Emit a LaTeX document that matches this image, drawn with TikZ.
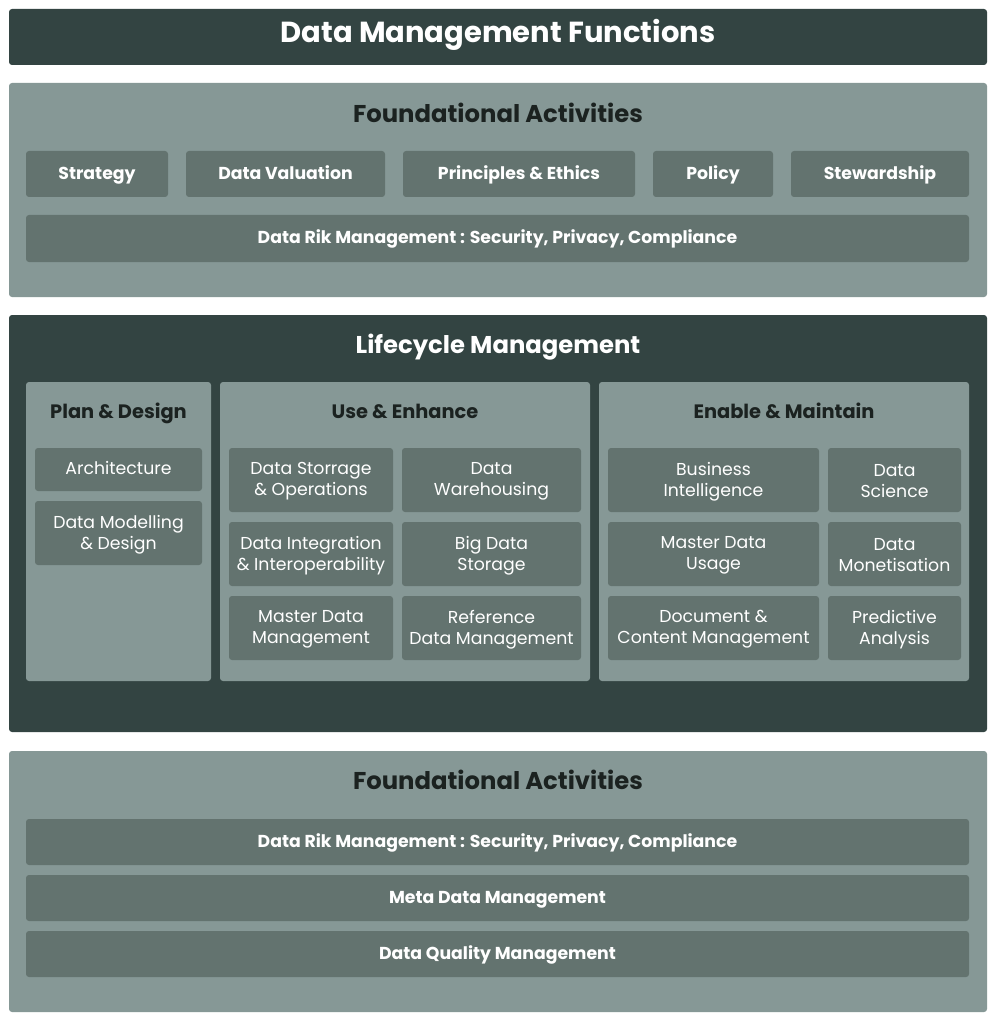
\documentclass[tikz,border=0pt]{standalone}
\usepackage{fontspec}
\setmainfont{Poppins}
\definecolor{dk}{HTML}{334442}
\definecolor{lt}{HTML}{869896}
\definecolor{bx}{HTML}{63736F}
\definecolor{tx}{HTML}{1B2220}
\tikzset{
 px/.style={x=1pt,y=-1pt},
 panel/.style={rounded corners=3pt},
 bbox/.style={fill=bx,rounded corners=3pt},
 one/.style={text height=1.2em,text depth=0.12em,inner sep=0pt},
 btxt/.style={one,text=white,font=\fontsize{17.3}{20}\selectfont\bfseries},
 rtxt/.style={text=white,font=\fontsize{17.3}{21}\selectfont,align=center,yshift=-1.5pt},
 ttl/.style={one,text=tx,font=\fontsize{24.3}{28}\selectfont\bfseries},
 sttl/.style={one,text=tx,font=\fontsize{19.4}{23}\selectfont\bfseries},
}
\begin{document}
\begin{tikzpicture}[px]
\useasboundingbox[fill=white] (0,0) rectangle (997,1024);
% title
\fill[panel,dk] (9,9) rectangle (987,65);
\node[one,text=white,font=\fontsize{29}{33}\selectfont\bfseries] (title) at (498,37) {Data Management Functions};
% panel 1
\fill[panel,lt] (9,83) rectangle (987,297);
\node[ttl] (fa1) at (498,117) {Foundational Activities};
\fill[bbox] (26,151) rectangle (168,197); \node[btxt] (s1) at (97,174) {Strategy};
\fill[bbox] (186,151) rectangle (385,197); \node[btxt] (s2) at (285.5,174) {Data Valuation};
\fill[bbox] (403,151) rectangle (635,197); \node[btxt] (s3) at (519,174) {Principles \& Ethics};
\fill[bbox] (653,151) rectangle (773,197); \node[btxt] (s4) at (713,174) {Policy};
\fill[bbox] (791,151) rectangle (969,197); \node[btxt] (s5) at (880,174) {Stewardship};
\fill[bbox] (26,215) rectangle (969,262); \node[btxt] (r1) at (497.5,238.5) {Data Rik Management : Security, Privacy, Compliance};
% panel 2
\fill[panel,dk] (9,315) rectangle (987,732);
\node[one,text=white,font=\fontsize{24.3}{28}\selectfont\bfseries] (lm) at (498,348) {Lifecycle Management};
\fill[panel,lt] (26,382) rectangle (211,681);
\fill[panel,lt] (220,382) rectangle (590,681);
\fill[panel,lt] (599,382) rectangle (969,681);
\node[sttl] (pd) at (118.5,413) {Plan \& Design};
\node[sttl] (ue) at (405,413) {Use \& Enhance};
\node[sttl] (em) at (784,413) {Enable \& Maintain};
\fill[bbox] (35,448) rectangle (202,491); \node[rtxt,one,yshift=1.5pt] (p1) at (118.5,469.5) {Architecture};
\fill[bbox] (35,501) rectangle (202,565); \node[rtxt] (p2) at (118.5,533) {Data Modelling\\\& Design};
\fill[bbox] (229,448) rectangle (393,512); \node[rtxt] (u1) at (311,480) {Data Storrage\\\& Operations};
\fill[bbox] (402,448) rectangle (581,512); \node[rtxt] (u2) at (491.5,480) {Data\\Warehousing};
\fill[bbox] (229,522) rectangle (393,586); \node[rtxt] (u3) at (311,554) {Data Integration\\\& Interoperability};
\fill[bbox] (402,522) rectangle (581,586); \node[rtxt] (u4) at (491.5,554) {Big Data\\Storage};
\fill[bbox] (229,596) rectangle (393,660); \node[rtxt] (u5) at (311,628) {Master Data\\Management};
\fill[bbox] (402,596) rectangle (581,660); \node[rtxt] (u6) at (491.5,628) {Reference\\Data Management};
\fill[bbox] (608,448) rectangle (819,512); \node[rtxt] (e1) at (713.5,480) {Business\\Intelligence};
\fill[bbox] (828,448) rectangle (961,512); \node[rtxt] (e2) at (894.5,480) {Data\\Science};
\fill[bbox] (608,522) rectangle (819,586); \node[rtxt] (e3) at (713.5,554) {Master Data\\Usage};
\fill[bbox] (828,522) rectangle (961,586); \node[rtxt] (e4) at (894.5,554) {Data\\Monetisation};
\fill[bbox] (608,596) rectangle (819,660); \node[rtxt] (e5) at (713.5,628) {Document \&\\Content Management};
\fill[bbox] (828,596) rectangle (961,660); \node[rtxt] (e6) at (894.5,628) {Predictive\\Analysis};
% panel 3
\fill[panel,lt] (9,751) rectangle (987,1012);
\node[ttl] (fa2) at (498,784) {Foundational Activities};
\fill[bbox] (26,819) rectangle (969,865); \node[btxt] (b1) at (497.5,842) {Data Rik Management : Security, Privacy, Compliance};
\fill[bbox] (26,875) rectangle (969,921); \node[btxt] (b2) at (497.5,898) {Meta Data Management};
\fill[bbox] (26,931) rectangle (969,977); \node[btxt] (b3) at (497.5,954) {Data Quality Management};
\end{tikzpicture}
\end{document}
